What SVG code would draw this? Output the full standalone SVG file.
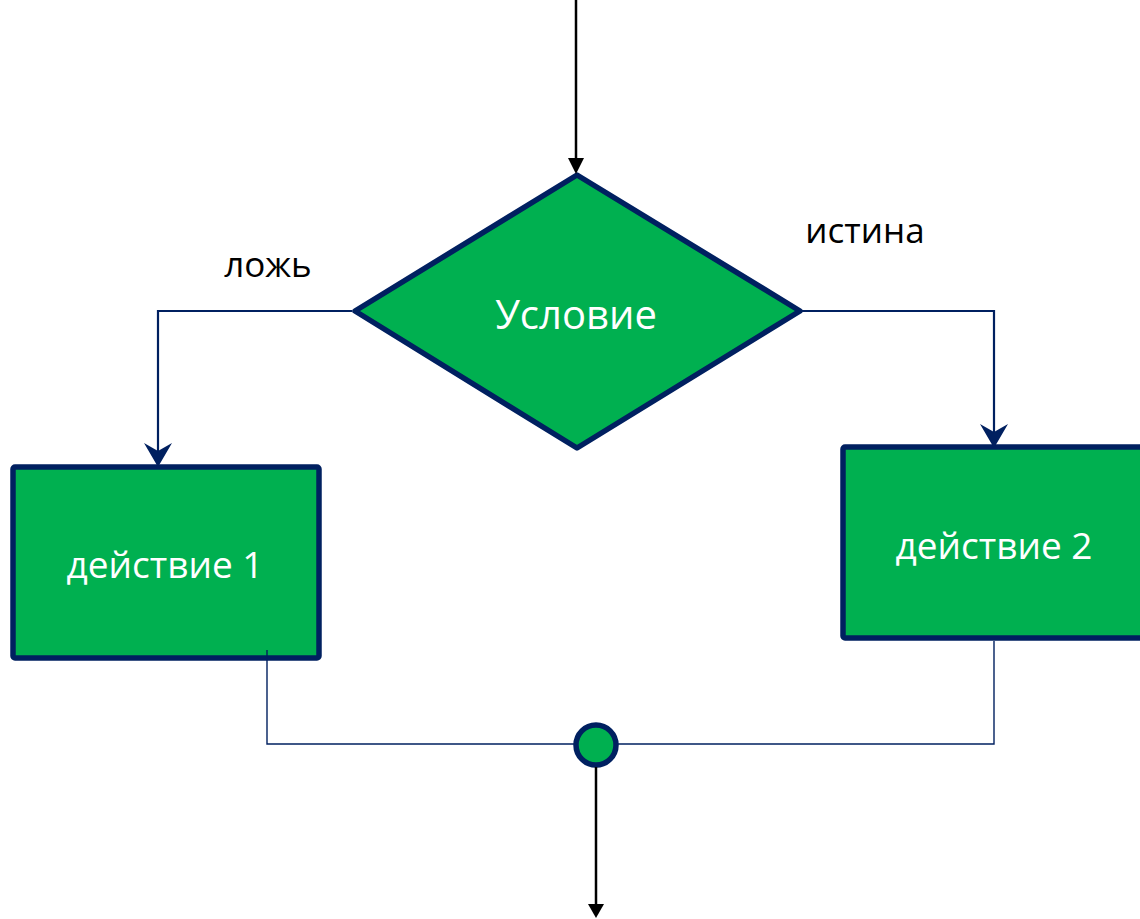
<svg xmlns="http://www.w3.org/2000/svg" width="1140" height="919" viewBox="0 0 1140 919">
  <style>
    .shape { fill: #00B050; stroke: #002060; stroke-width: 5.5; stroke-linejoin: round; }
    .flow { fill: none; stroke: #002060; stroke-width: 2.2; }
    .thin { fill: none; stroke: #002060; stroke-width: 1.4; }
    .black { fill: none; stroke: #000000; stroke-width: 2.5; }
    .label { font-family: "Open Sans", "Noto Sans", sans-serif; fill: #ffffff; text-anchor: middle; }
    .note { font-family: "Open Sans", "Noto Sans", sans-serif; fill: #000000; text-anchor: middle; font-size: 35px; }
  </style>
  <defs>
    <marker id="stealth" viewBox="0 0 24 28" refX="22" refY="14" markerWidth="24" markerHeight="28" markerUnits="userSpaceOnUse" orient="auto">
      <path d="M0,0 L8,14 L0,28 L24,14 Z" fill="#002060"/>
    </marker>
  </defs>

  <rect width="1140" height="919" fill="#ffffff"/>

  <g id="condition">
    <polygon class="shape" points="577,175 800,311 577,448 355,311"/>
    <text class="label" x="576" y="329" font-size="40">Условие</text>
  </g>

  <g id="action1">
    <rect class="shape" x="13" y="467" width="306" height="191" rx="2"/>
    <text class="label" x="165" y="578" font-size="37">действие 1</text>
  </g>

  <g id="action2">
    <rect class="shape" x="843" y="447" width="310" height="191" rx="2"/>
    <text class="label" x="994" y="559" font-size="37">действие 2</text>
  </g>

  <g id="merge">
    <circle class="shape" cx="596" cy="745" r="20"/>
  </g>

  <g id="connectors">
    <!-- entry arrow -->
    <line class="black" x1="576" y1="0" x2="576" y2="160"/>
    <path d="M568,158 L584,158 L576,174 Z" fill="#000000"/>
    <!-- false branch -->
    <path class="flow" d="M352,311 H158 V465" marker-end="url(#stealth)"/>
    <!-- true branch -->
    <path class="flow" d="M802,311 H994 V446" marker-end="url(#stealth)"/>
    <!-- merge lines -->
    <path class="thin" d="M267,650 V744 H575"/>
    <path class="thin" d="M994,641 V744 H617"/>
    <!-- exit arrow -->
    <line class="black" x1="596" y1="767" x2="596" y2="906"/>
    <path d="M588,904 L604,904 L596,918 Z" fill="#000000"/>
  </g>

  <g id="label-false">
    <text class="note" x="268" y="277">ложь</text>
  </g>
  <g id="label-true">
    <text class="note" x="865" y="243">истина</text>
  </g>
</svg>
